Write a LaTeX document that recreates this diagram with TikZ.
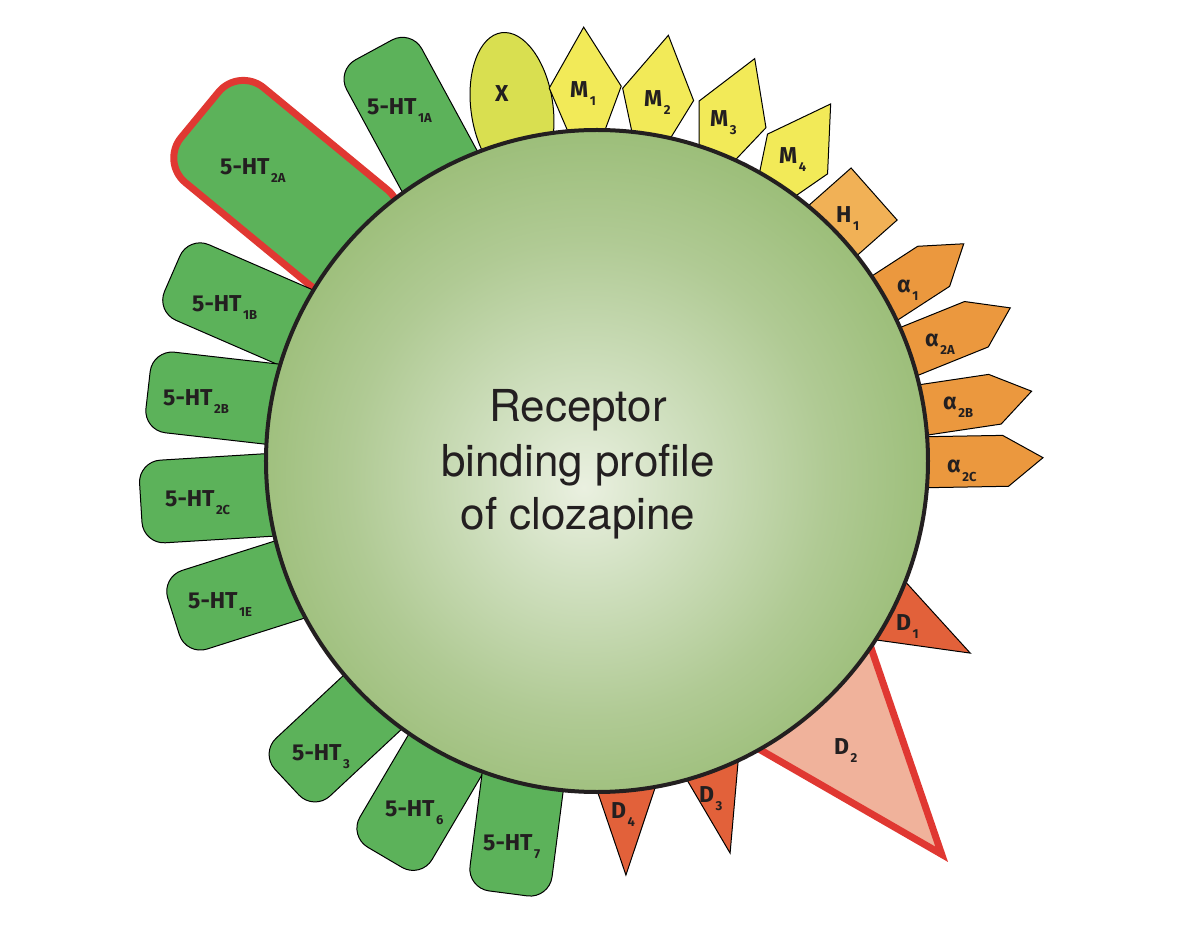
\documentclass[tikz,border=0pt]{standalone}
\usepackage{fontspec}
\setmainfont{TeX Gyre Heros}
\newfontfamily\lblfont{Fira Sans}
\definecolor{ink}{RGB}{35,31,32}
\definecolor{htgreen}{RGB}{92,178,90}
\definecolor{hotred}{RGB}{224,56,50}
\definecolor{xyellow}{RGB}{217,223,80}
\definecolor{myellow}{RGB}{242,234,88}
\definecolor{horange}{RGB}{241,177,86}
\definecolor{aorange}{RGB}{235,152,62}
\definecolor{dred}{RGB}{226,97,58}
\definecolor{dpink}{RGB}{240,178,155}
\definecolor{hub0}{RGB}{234,240,224}
\definecolor{hub1}{RGB}{210,225,194}
\definecolor{hub2}{RGB}{176,202,148}
\definecolor{hub3}{RGB}{146,184,108}
\definecolor{hub4}{RGB}{134,172,90}
\definecolor{hub5}{RGB}{126,164,80}
\pgfdeclareradialshading{hubshade}{\pgfpoint{-1bp}{-2bp}}{%
  color(0bp)=(hub0); color(7bp)=(hub1); color(18bp)=(hub2);
  color(30bp)=(hub3); color(40bp)=(hub4); color(50bp)=(hub5)}
\newcommand{\lsub}[1]{\kern1.5pt\raisebox{-8pt}{\fontsize{13pt}{13pt}\selectfont #1}}

\begin{document}
\begin{tikzpicture}[
    x=1pt, y=1pt,
    petal/.style = {draw=black, line width=1pt},
    htbox/.style = {petal, fill=htgreen, rounded corners=22pt},
    hot/.style   = {draw=hotred, line width=7pt},
    mbox/.style  = {petal, fill=myellow},
    abox/.style  = {petal, fill=aorange},
    dbox/.style  = {petal, fill=dred},
    lbl/.style   = {font=\lblfont\bfseries\fontsize{23pt}{23pt}\selectfont,
                    text=ink, inner sep=0pt, anchor=base west},
    hubtext/.style = {font=\fontsize{44pt}{54pt}\selectfont, text=ink,
                      inner sep=0pt, anchor=base}
]
\useasboundingbox (-595,-466) rectangle (591,460);

% Serotonin receptors
\draw[htbox, hot, rounded corners=32pt, rotate=140.5] (300,-76.5) rectangle (524.5,46.5);
\draw[htbox, rotate=118.5] (300,-44) rectangle (466,41.5);
\draw[htbox, rotate=156.5] (300,-43.5) rectangle (462,39);
\draw[htbox, rotate=173.5] (300,-59.5) rectangle (452,21.6);
\draw[htbox, rotate=183.5] (300,-26.4) rectangle (456,56.4);
\draw[htbox, rotate=197.6] (300,-19.6) rectangle (449,62.9);
\draw[htbox, rotate=223] (300,-14) rectangle (445,65);
\draw[htbox, rotate=239.5] (300,-21.3) rectangle (449,62.4);
\draw[htbox, rotate=262.6] (300,-71.6) rectangle (441,11.1);

% Unknown site
\draw[petal, fill=xyellow, shift={(-83,352)}, rotate=8] (0,0) ellipse [x radius=41, y radius=76];

% Muscarinic receptors
\foreach \ang/\L in {91.5/433, 80.2/431, 68.3/432, 56.5/427}
  \draw[mbox, rotate=\ang] (\L-150,0) -- (\L-60,-36) -- (\L,0) -- (\L-60,36) -- cycle;

% Histamine receptor
\draw[petal, fill=horange, rotate=41.5] (300,-20.5) rectangle (385.3,49);

% Adrenergic receptors
\foreach \ang/\c/\L in {33/-22/427, 22/-17/442, 8.5/1/442, 1/-8/448}
  \draw[abox, rotate=\ang] (290,\c-25.5) -- (\L-35,\c-25.5) -- (\L,\c+2.5)
        -- (\L-40,\c+25.5) -- (290,\c+25.5) -- cycle;

% Dopamine receptors
\draw[dbox, rotate=-27] (300,44.5) -- (422,-1.7) -- (300,-43.8) -- cycle;
\draw[hot, fill=dpink, miter limit=10, rotate=-48] (300,89.8) -- (525,-6.2) -- (300,-79.6) -- cycle;
\draw[dbox, rotate=-70] (300,46.4) -- (415.6,-7.5) -- (300,-28.9) -- cycle;
\draw[dbox, rotate=-86] (300,50) -- (416.2,1.9) -- (300,-28.8) -- cycle;

% Hub
\shade[shading=hubshade] (2,-1) circle (331);
\draw[line width=4pt, draw=ink] (2,-1) circle (331);
\node[hubtext] (t1) at (-17,38.3)  {Receptor};
\node[hubtext] (t2) at (-17,-16.7) {binding profile};
\node[hubtext] (t3) at (-17,-70)   {of clozapine};

% Labels
\node[lbl] (l2a) at (-375,285)  {5-HT\lsub{2A}};
\node[lbl] (l1a) at (-228,345)  {5-HT\lsub{1A}};
\node[lbl] (l1b) at (-403,148)  {5-HT\lsub{1B}};
\node[lbl] (l2b) at (-432,54)   {5-HT\lsub{2B}};
\node[lbl] (l2c) at (-430,-46)  {5-HT\lsub{2C}};
\node[lbl] (l1e) at (-407,-148) {5-HT\lsub{1E}};
\node[lbl] (l3)  at (-303,-300) {5-HT\lsub{3}};
\node[lbl] (l6)  at (-210,-356) {5-HT\lsub{6}};
\node[lbl] (l7)  at (-112,-390) {5-HT\lsub{7}};
\node[lbl] (lx)  at (-100,358)  {X};
\node[lbl] (lm1) at (-25,362)   {M\lsub{1}};
\node[lbl] (lm2) at (49,353)    {M\lsub{2}};
\node[lbl] (lm3) at (115,333)   {M\lsub{3}};
\node[lbl] (lm4) at (184,296)   {M\lsub{4}};
\node[lbl] (lh1) at (241,237)   {H\lsub{1}};
\node[lbl] (la1)  at (302,167)  {α\lsub{1}};
\node[lbl] (la2a) at (330,113)  {α\lsub{2A}};
\node[lbl] (la2b) at (348,50)   {α\lsub{2B}};
\node[lbl] (la2c) at (352,-13)  {α\lsub{2C}};
\node[lbl] (ld1) at (301,-170)  {D\lsub{1}};
\node[lbl] (ld2) at (239,-294)  {D\lsub{2}};
\node[lbl] (ld3) at (104,-342)  {D\lsub{3}};
\node[lbl] (ld4) at (16,-358)   {D\lsub{4}};
\end{tikzpicture}
\end{document}
